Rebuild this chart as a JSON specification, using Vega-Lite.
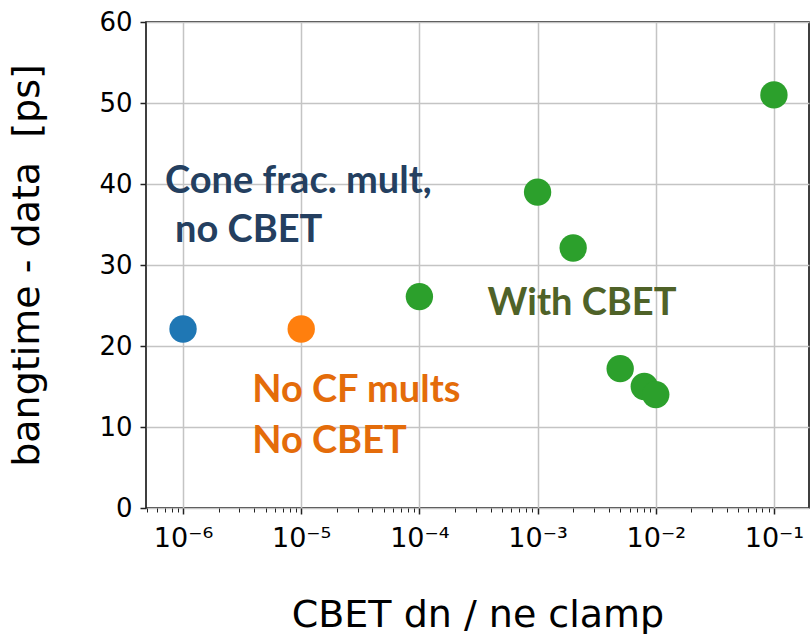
{
  "$schema": "https://vega.github.io/schema/vega-lite/v6.json",
  "width": 663,
  "height": 486,
  "autosize": {"type": "none"},
  "padding": {"left": 146, "top": 22, "right": 1, "bottom": 126},
  "background": "white",
  "config": {
    "view": {"stroke": "black", "strokeWidth": 1.5},
    "font": "DejaVu Sans",
    "axis": {
      "labelFont": "DejaVu Sans",
      "titleFont": "DejaVu Sans",
      "labelColor": "black",
      "titleColor": "black",
      "titleFontWeight": "normal",
      "labelFontSize": 26,
      "titleFontSize": 38,
      "tickColor": "#222222",
      "tickWidth": 1.5,
      "tickSize": 6,
      "gridColor": "#c4c4c4",
      "gridWidth": 1.5,
      "domain": false
    }
  },
  "layer": [
    {
      "data": {"values": [
        {"clamp": 1e-6, "dt": 22.1, "group": "Cone frac. mult, no CBET"},
        {"clamp": 1e-5, "dt": 22.1, "group": "No CF mults, No CBET"},
        {"clamp": 1e-4, "dt": 26.1, "group": "With CBET"},
        {"clamp": 1e-3, "dt": 39.0, "group": "With CBET"},
        {"clamp": 2e-3, "dt": 32.1, "group": "With CBET"},
        {"clamp": 5e-3, "dt": 17.2, "group": "With CBET"},
        {"clamp": 8e-3, "dt": 15.0, "group": "With CBET"},
        {"clamp": 1e-2, "dt": 14.0, "group": "With CBET"},
        {"clamp": 1e-1, "dt": 51.0, "group": "With CBET"}
      ]},
      "mark": {"type": "circle", "size": 750, "opacity": 1},
      "encoding": {
        "x": {
          "field": "clamp", "type": "quantitative",
          "scale": {"type": "log", "domain": [4.86e-7, 0.198], "nice": false},
          "axis": {
            "orient": "bottom",
            "values": [1e-6, 1e-5, 1e-4, 1e-3, 1e-2, 1e-1],
            "labelExpr": "'10⁻' + ['⁰','¹','²','³','⁴','⁵','⁶','⁷'][-round(log(datum.value)/LN10)]",
            "grid": true,
            "labelPadding": 11,
            "labelFontSize": 27,
            "title": "CBET dn / ne clamp",
            "titlePadding": 45
          }
        },
        "y": {
          "field": "dt", "type": "quantitative",
          "scale": {"domain": [0, 60], "nice": false},
          "axis": {"title": "bangtime - data \u00a0[ps]", "values": [0, 10, 20, 30, 40, 50, 60], "grid": true, "labelFontSize": 26, "labelPadding": 8, "titlePadding": 52}
        },
        "color": {
          "field": "group", "type": "nominal",
          "scale": {"domain": ["Cone frac. mult, no CBET", "No CF mults, No CBET", "With CBET"], "range": ["#1f77b4", "#ff7f0e", "#2ca02c"]},
          "legend": null
        }
      }
    },
    {
      "data": {"values": [
        {"clamp": 7.04e-7, "dt": 38.9, "label": "Cone frac. mult,"},
        {"clamp": 8.56e-7, "dt": 32.8, "label": "no CBET"}
      ]},
      "mark": {"type": "text", "align": "left", "baseline": "alphabetic", "font": "Lato", "fontWeight": "bold", "fontSize": 38, "color": "#243f60"},
      "encoding": {
        "x": {
          "field": "clamp", "type": "quantitative",
          "axis": {
            "orient": "bottom",
            "values": [5e-7, 6e-7, 7e-7, 8e-7, 9e-7, 2e-6, 3e-6, 4e-6, 5e-6, 6e-6, 7e-6, 8e-6, 9e-6, 2e-5, 3e-5, 4e-5, 5e-5, 6e-5, 7e-5, 8e-5, 9e-5, 2e-4, 3e-4, 4e-4, 5e-4, 6e-4, 7e-4, 8e-4, 9e-4, 2e-3, 3e-3, 4e-3, 5e-3, 6e-3, 7e-3, 8e-3, 9e-3, 2e-2, 3e-2, 4e-2, 5e-2, 6e-2, 7e-2, 8e-2, 9e-2],
            "labels": false,
            "grid": false,
            "tickSize": 4,
            "tickWidth": 1,
            "title": null
          }
        },
        "y": {"field": "dt", "type": "quantitative", "axis": {"title": "bangtime - data \u00a0[ps]", "values": [0, 10, 20, 30, 40, 50, 60], "grid": true, "labelFontSize": 26, "labelPadding": 8, "titlePadding": 52}},
        "text": {"field": "label"}
      }
    },
    {
      "data": {"values": [
        {"clamp": 3.77e-4, "dt": 23.8, "label": "With CBET"}
      ]},
      "mark": {"type": "text", "align": "left", "baseline": "alphabetic", "font": "Lato", "fontWeight": "bold", "fontSize": 38, "color": "#4f6228"},
      "encoding": {
        "x": {"field": "clamp", "type": "quantitative", "axis": null},
        "y": {"field": "dt", "type": "quantitative", "axis": {"title": "bangtime - data \u00a0[ps]", "values": [0, 10, 20, 30, 40, 50, 60], "grid": true, "labelFontSize": 26, "labelPadding": 8, "titlePadding": 52}},
        "text": {"field": "label"}
      }
    },
    {
      "data": {"values": [
        {"clamp": 3.85e-6, "dt": 13.1, "label": "No CF mults"},
        {"clamp": 3.85e-6, "dt": 6.8, "label": "No CBET"}
      ]},
      "mark": {"type": "text", "align": "left", "baseline": "alphabetic", "font": "Lato", "fontWeight": "bold", "fontSize": 38, "color": "#e46c0a"},
      "encoding": {
        "x": {"field": "clamp", "type": "quantitative", "axis": null},
        "y": {"field": "dt", "type": "quantitative", "axis": {"title": "bangtime - data \u00a0[ps]", "values": [0, 10, 20, 30, 40, 50, 60], "grid": true, "labelFontSize": 26, "labelPadding": 8, "titlePadding": 52}},
        "text": {"field": "label"}
      }
    }
  ],
  "resolve": {"axis": {"x": "independent"}}
}
